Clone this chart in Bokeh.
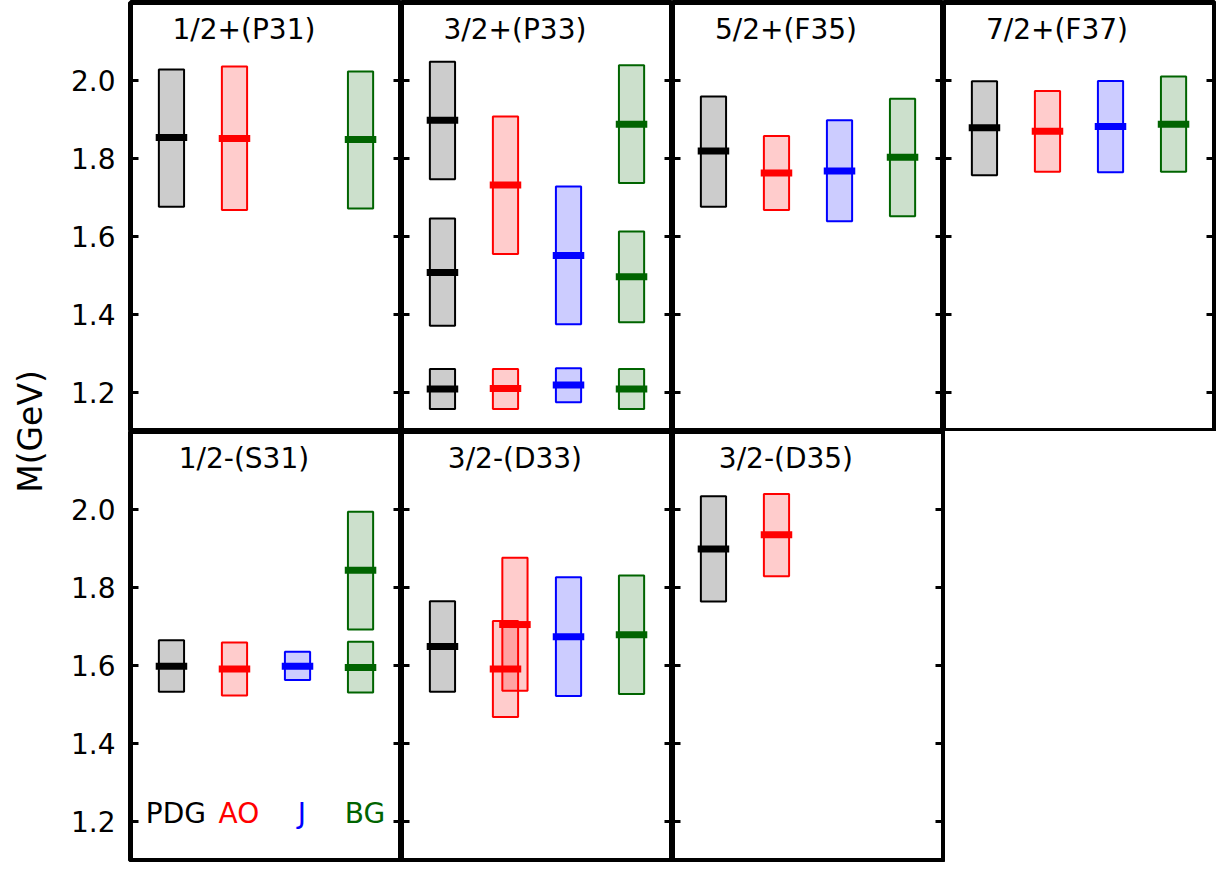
from bokeh.plotting import figure
from bokeh.models import Range1d, LinearAxis, FixedTicker, Label, CustomJSTickFormatter, NumeralTickFormatter
from bokeh.layouts import row, column
from bokeh.core.properties import value
from bokeh.embed import file_html
from bokeh.resources import INLINE

# ---------------- data ----------------
panel_titles = ["1/2+(P31)", "3/2+(P33)", "5/2+(F35)", "7/2+(F37)",
                "1/2-(S31)", "3/2-(D33)", "3/2-(D35)"]
models = ["PDG", "AO", "J", "BG"]
model_colors = ["black", "red", "blue", "#006400"]
ytick_values = [1.2, 1.4, 1.6, 1.8, 2.0]

# PDG
pdg_panel = [0, 1, 1, 1, 2, 3, 4, 5, 6]
pdg_mass = [1.854, 1.898, 1.508, 1.209, 1.819, 1.879, 1.598, 1.649, 1.899]
pdg_low = [1.676, 1.747, 1.371, 1.158, 1.676, 1.757, 1.533, 1.533, 1.764]
pdg_high = [2.028, 2.048, 1.646, 1.260, 1.959, 1.998, 1.665, 1.765, 2.034]

# AO
ao_panel = [0, 1, 1, 2, 3, 4, 5, 5, 6]
ao_mass = [1.851, 1.732, 1.210, 1.763, 1.870, 1.591, 1.591, 1.705, 1.935]
ao_low = [1.668, 1.555, 1.158, 1.668, 1.766, 1.523, 1.468, 1.535, 1.829]
ao_high = [2.036, 1.908, 1.260, 1.858, 1.973, 1.659, 1.714, 1.876, 2.040]

# J
j_panel = [1, 1, 2, 3, 4, 5]
j_mass = [1.551, 1.219, 1.768, 1.882, 1.598, 1.674]
j_low = [1.375, 1.175, 1.639, 1.765, 1.563, 1.522]
j_high = [1.728, 1.262, 1.898, 1.999, 1.635, 1.826]

# BG
bg_panel = [0, 1, 1, 1, 2, 3, 4, 4, 5]
bg_mass = [1.849, 1.888, 1.497, 1.209, 1.803, 1.888, 1.844, 1.595, 1.679]
bg_low = [1.672, 1.737, 1.380, 1.158, 1.652, 1.766, 1.692, 1.531, 1.527]
bg_high = [2.023, 2.039, 1.613, 1.260, 1.953, 2.010, 1.994, 1.661, 1.831]

series = [
    (pdg_panel, pdg_mass, pdg_low, pdg_high),
    (ao_panel, ao_mass, ao_low, ao_high),
    (j_panel, j_mass, j_low, j_high),
    (bg_panel, bg_mass, bg_low, bg_high),
]

# ---------------- style / layout ----------------
FONT = "DejaVu Sans"
W, H = 271, 429
LABEL_W = 60
LEFT = 70
OUT = 2
BOX_W = 0.4
BAR_W = 0.5
DODGE = 0.15


def make_panel(i):
    r, c = divmod(i, 4)
    last_in_row = (c == 3) or (r == 1 and c == 2)
    p = figure(frame_width=W, frame_height=H,
               x_range=Range1d(0.35, 4.65), y_range=Range1d(1.1, 2.2),
               x_axis_type=None, y_axis_type=None, title=None,
               toolbar_location=None, output_backend="svg",
               min_border_left=LEFT if c == 0 else 0,
               min_border_right=OUT if last_in_row else 0,
               min_border_top=OUT if r == 0 else 0,
               min_border_bottom=OUT if r == 1 else 0)
    p.outline_line_color = "black"
    p.outline_line_width = 5
    p.background_fill_color = "white"
    p.border_fill_color = "white"

    for side in ("left", "right"):
        ax = LinearAxis(ticker=FixedTicker(ticks=ytick_values, minor_ticks=[]),
                        major_tick_in=8, major_tick_out=0,
                        major_tick_line_width=3, major_tick_line_color="black",
                        minor_tick_line_color=None, axis_line_color=None)
        if side == "left" and c == 0:
            ax.formatter = NumeralTickFormatter(format="0.0")
            ax.major_label_text_font = FONT
            ax.major_label_text_font_size = "28px"
            ax.major_label_text_color = "black"
            ax.major_label_standoff = 15
        else:
            ax.formatter = CustomJSTickFormatter(code="return ''")
            ax.major_label_standoff = 0
        p.add_layout(ax, side)

    for k, (pan, mass, lo, hi) in enumerate(series):
        xs, ms, ls, hs = [], [], [], []
        for pi, m, l, h in zip(pan, mass, lo, hi):
            if pi != i:
                continue
            x = k + 1
            for px, pl, ph in zip(xs, ls, hs):
                if px == x and l < ph and h > pl:
                    x = k + 1 + DODGE
            xs.append(x); ms.append(m); ls.append(l); hs.append(h)
        if not xs:
            continue
        col = model_colors[k]
        p.quad(left=[x - BOX_W / 2 for x in xs], right=[x + BOX_W / 2 for x in xs],
               bottom=ls, top=hs, fill_color=col, fill_alpha=0.2,
               line_color=col, line_width=2)
        p.rect(x=xs, y=ms, width=BAR_W, height=7, height_units="screen",
               fill_color=col, line_color=None)

    p.text(x=[2.15], y=[2.132], text=[panel_titles[i]], text_align="center",
           text_baseline="middle", text_font=value(FONT),
           text_font_size="28px", text_color="black")

    if i == 4:
        p.text(x=[k + 1.07 for k in range(len(models))], y=[1.22] * len(models),
               text=models, text_color=model_colors, text_align="center",
               text_baseline="middle", text_font=value(FONT),
               text_font_size="28px")
    return p


panels = [make_panel(i) for i in range(len(panel_titles))]

lab = figure(width=LABEL_W, height=2 * H + 2 * OUT, x_range=Range1d(0, 1), y_range=Range1d(0, 1),
             x_axis_type=None, y_axis_type=None, title=None, toolbar_location=None,
             output_backend="svg", min_border=0)
lab.outline_line_color = None
lab.add_layout(Label(x=0.5, y=0.5, text="M(GeV)", angle=90, angle_units="deg",
                     text_align="center", text_baseline="middle",
                     text_font=FONT, text_font_size="33px", text_color="black"))

grid = column(row(*panels[:4]), row(*panels[4:]))
layout = row(lab, grid)

open("out.html", "w").write(file_html(layout, INLINE))
